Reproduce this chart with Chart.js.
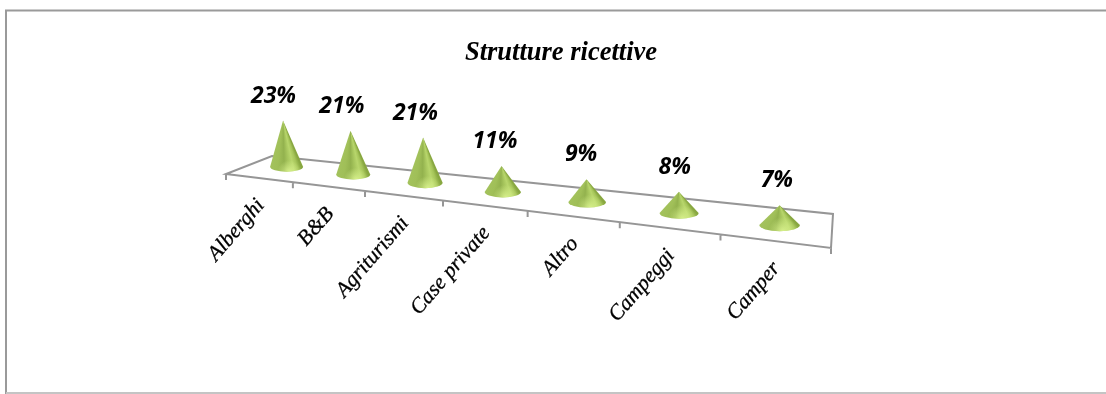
<!DOCTYPE html>
<html>
<head>
<meta charset="utf-8">
<title>Strutture ricettive</title>
<script src="https://cdn.jsdelivr.net/npm/chart.js@4"></script>
<style>
    html, body { margin: 0; padding: 0; background: #fff; }
    #wrap { width: 1106px; height: 394px; }
</style>
</head>
<body>
<div id="wrap"><canvas id="strutture"></canvas></div>
<script>
const categories = ['Alberghi', 'B&B', 'Agriturismi', 'Case private', 'Altro', 'Campeggi', 'Camper'];
const shares = [23, 21, 21, 11, 9, 8, 7];

// floor plate corners in canvas pixels, front and back edge
const frontLeft = [226, 174], frontRight = [831, 248];
const backLeft = [272, 156], backRight = [833, 214];
const perspective = 1.341;

function warp(t) {
    return t / (t + perspective * (1 - t));
}

function onEdge(a, b, p) {
    return [a[0] + (b[0] - a[0]) * p, a[1] + (b[1] - a[1]) * p];
}

function floorPoint(t, depth) {
    const p = warp(t);
    const f = onEdge(frontLeft, frontRight, p);
    const b = onEdge(backLeft, backRight, p);
    return onEdge(f, b, depth);
}

// horizontal shading across a cone, -1 left rim to 1 right rim
const coneShade = [
    [-1, '#a3c25c'], [-0.55, '#a0bf58'], [-0.15, '#93b24e'], [0.15, '#a8c75e'],
    [0.4, '#b8d66c'], [0.65, '#a6c55a'], [0.88, '#87a640'], [1, '#8aa942']
];

function drawCone(ctx, tipX, tipY, cx, cy, rx, ry) {
    const fill = ctx.createConicGradient(0, tipX, tipY);
    const drop = cy - tipY;
    coneShade.slice().reverse().forEach(function(s) {
        const angle = Math.atan2(drop, cx + s[0] * rx - tipX);
        fill.addColorStop(angle / (2 * Math.PI), s[1]);
    });
    ctx.beginPath();
    ctx.moveTo(tipX, tipY);
    ctx.lineTo(cx - rx, cy);
    ctx.ellipse(cx, cy, rx, ry, 0, Math.PI, 0, true);
    ctx.closePath();
    ctx.save();
    ctx.fillStyle = fill;
    ctx.fill();
    ctx.clip();
    // light caught by the lower rim
    const rim = ctx.createRadialGradient(cx + rx * 0.15, cy + ry, 0, cx + rx * 0.15, cy + ry, rx * 0.7);
    rim.addColorStop(0, 'rgba(226,250,150,0.8)');
    rim.addColorStop(1, 'rgba(226,250,150,0)');
    ctx.fillStyle = rim;
    ctx.fillRect(cx - rx, cy - ry * 2, rx * 2, ry * 4);
    ctx.restore();
}

const conePlugin = {
    id: 'cones',
    beforeDraw: function(chart) {
        const ctx = chart.ctx;
        ctx.save();
        ctx.strokeStyle = '#9a9a9a';
        ctx.lineWidth = 2;
        ctx.beginPath();
        ctx.moveTo(1106, 10.5);
        ctx.lineTo(6, 10.5);
        ctx.lineTo(6, 394);
        ctx.stroke();
        ctx.strokeStyle = '#c4c4c4';
        ctx.beginPath();
        ctx.moveTo(6, 393);
        ctx.lineTo(1106, 393);
        ctx.stroke();
        ctx.restore();
    },
    afterDatasetsDraw: function(chart) {
        const ctx = chart.ctx;
        const xs = chart.scales.x;
        const area = chart.chartArea;
        const step = 1 / categories.length;
        const pos = function(i) {
            return (xs.getPixelForTick(i) - area.left) / area.width;
        };

        // floor plate and tick marks
        ctx.save();
        ctx.strokeStyle = '#969696';
        ctx.lineWidth = 2;
        ctx.beginPath();
        ctx.moveTo(frontLeft[0], frontLeft[1]);
        ctx.lineTo(frontRight[0], frontRight[1]);
        ctx.lineTo(backRight[0], backRight[1]);
        ctx.lineTo(backLeft[0], backLeft[1]);
        ctx.closePath();
        for (let i = 0; i <= categories.length; i++) {
            const pt = floorPoint(i * step, 0);
            ctx.moveTo(pt[0], pt[1]);
            ctx.lineTo(pt[0], pt[1] + 6);
        }
        ctx.stroke();
        ctx.restore();

        // cones and their value labels
        const bars = chart.getDatasetMeta(0).data;
        bars.forEach(function(bar, i) {
            const t = pos(i);
            const p = warp(t);
            const base = floorPoint(t, 0.6 - 0.12 * p);
            const cx = base[0] + 1.5 + 8 * p * (1 - p);
            const cy = base[1];
            const w = bar.width * (0.955 + 0.265 * p);
            const rise = (area.bottom - bar.y) / area.height * 1.52 * w;
            const tipX = cx - 4 * (1 - p) * (1 - p);
            const tipY = cy - rise;
            drawCone(ctx, tipX, tipY, cx, cy, w / 2, w * 0.15);

            ctx.save();
            ctx.font = 'italic 700 23px "Open Sans"';
            ctx.fillStyle = '#000';
            ctx.textAlign = 'center';
            ctx.textBaseline = 'middle';
            ctx.fillText(shares[i] + '%', tipX - 10 + 8 * p, tipY - 24.5);
            ctx.restore();

            // category label, rotated, ending under the middle of its slot
            const edge = floorPoint(t, 0);
            ctx.save();
            ctx.translate(edge[0] + 2, edge[1] + 24);
            ctx.rotate(-49 * Math.PI / 180);
            ctx.font = 'italic 21.5px "Liberation Serif"';
            ctx.fillStyle = '#000';
            ctx.strokeStyle = '#000';
            ctx.lineWidth = 0.3;
            ctx.textAlign = 'right';
            ctx.textBaseline = 'middle';
            ctx.fillText(xs.getLabelForValue(i), 0, 0);
            ctx.strokeText(xs.getLabelForValue(i), 0, 0);
            ctx.restore();
        });
    }
};

const data = {
    labels: categories,
    datasets: [{
        label: 'Strutture ricettive',
        data: shares,
        backgroundColor: 'rgba(0, 0, 0, 0)',
        barThickness: 34
    }]
};

const config = {
    type: 'bar',
    data: data,
    plugins: [conePlugin],
    options: {
        animation: false,
        responsive: true,
        maintainAspectRatio: false,
        layout: {
            padding: { left: 16 }
        },
        plugins: {
            legend: { display: false },
            tooltip: { enabled: false },
            title: {
                display: true,
                text: 'Strutture ricettive',
                color: '#000',
                font: { family: '"Liberation Serif"', size: 26.5, style: 'italic', weight: 'bold' },
                padding: { top: 37, bottom: 0 }
            }
        },
        scales: {
            x: { display: false },
            y: { display: false, min: -1.5, max: 25 }
        }
    }
};

const ctx = document.getElementById('strutture').getContext('2d');
const myChart = new Chart(ctx, config);
</script>
</body>
</html>
